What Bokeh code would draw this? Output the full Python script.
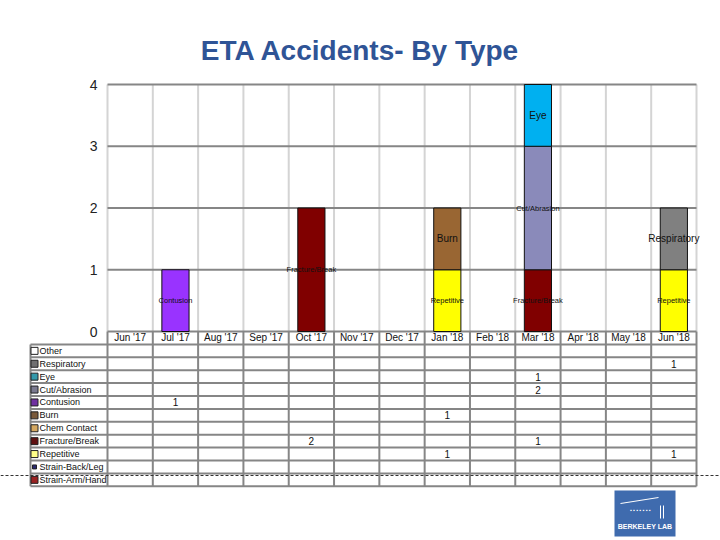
from bokeh.plotting import figure
from bokeh.models import Range1d
from bokeh.core.properties import value
from bokeh.embed import file_html
from bokeh.resources import INLINE

# ---------------- data ----------------
months = ["Jun '17", "Jul '17", "Aug '17", "Sep '17", "Oct '17", "Nov '17", "Dec '17",
          "Jan '18", "Feb '18", "Mar '18", "Apr '18", "May '18", "Jun '18"]
categories = ["Other", "Respiratory", "Eye", "Cut/Abrasion", "Contusion", "Burn",
              "Chem Contact", "Fracture/Break", "Repetitive", "Strain-Back/Leg", "Strain-Arm/Hand"]

other          = [0, 0, 0, 0, 0, 0, 0, 0, 0, 0, 0, 0, 0]
respiratory    = [0, 0, 0, 0, 0, 0, 0, 0, 0, 0, 0, 0, 1]
eye            = [0, 0, 0, 0, 0, 0, 0, 0, 0, 1, 0, 0, 0]
cut_abrasion   = [0, 0, 0, 0, 0, 0, 0, 0, 0, 2, 0, 0, 0]
contusion      = [0, 1, 0, 0, 0, 0, 0, 0, 0, 0, 0, 0, 0]
burn           = [0, 0, 0, 0, 0, 0, 0, 1, 0, 0, 0, 0, 0]
chem_contact   = [0, 0, 0, 0, 0, 0, 0, 0, 0, 0, 0, 0, 0]
fracture_break = [0, 0, 0, 0, 2, 0, 0, 0, 0, 1, 0, 0, 0]
repetitive     = [0, 0, 0, 0, 0, 0, 0, 1, 0, 0, 0, 0, 1]
strain_back    = [0, 0, 0, 0, 0, 0, 0, 0, 0, 0, 0, 0, 0]
strain_arm     = [0, 0, 0, 0, 0, 0, 0, 0, 0, 0, 0, 0, 0]

series = [other, respiratory, eye, cut_abrasion, contusion, burn, chem_contact,
          fracture_break, repetitive, strain_back, strain_arm]

y_ticks = [0, 1, 2, 3, 4]
title_text = "ETA Accidents- By Type"

# ---------------- styles ----------------
bar_colors = {"Other": "#FFFFFF", "Respiratory": "#808080", "Eye": "#00B0F0",
              "Cut/Abrasion": "#8A8ABA", "Contusion": "#9933FF", "Burn": "#996633",
              "Chem Contact": "#CC9966", "Fracture/Break": "#800000", "Repetitive": "#FFFF00",
              "Strain-Back/Leg": "#000080", "Strain-Arm/Hand": "#993333"}
legend_colors = {"Other": "#FFFFFF", "Respiratory": "#707070", "Eye": "#3399AA",
                 "Cut/Abrasion": "#7A7A90", "Contusion": "#7030A0", "Burn": "#7A5A3A",
                 "Chem Contact": "#D4A860", "Fracture/Break": "#601010", "Repetitive": "#FFFF88",
                 "Strain-Back/Leg": "#2A2A70", "Strain-Arm/Hand": "#992222"}
big_label = {"Respiratory", "Eye", "Burn"}

FONT = "Liberation Sans"
GRID_DARK = "#868686"
GRID_LIGHT = "#D4D4D4"
TXT = "#111111"

W, H = 720, 540
n = len(months)
nrows = len(categories)
PX_PER_X = 589 / n          # category axis: px 107..696
PX_PER_Y = 247 / 4          # value axis: px 331 (0) .. 84 (4)
ROW_PX = 12.9               # table rows start at px 331 (header row)

def xpx(px):
    return (px - 107) / PX_PER_X

def ypx(py):
    return (331 - py) / PX_PER_Y

def rpx(py):
    return (py - 331) / ROW_PX

p = figure(width=W, height=H,
           x_range=Range1d(xpx(0), xpx(W)), y_range=Range1d(ypx(H), ypx(0)),
           output_backend="svg", toolbar_location=None,
           x_axis_location=None, y_axis_location=None, min_border=0, title=None)
p.extra_y_ranges = {"tbl": Range1d(rpx(H), rpx(0))}
p.outline_line_color = None
p.grid.visible = False

# ---------- chart grid ----------
vx = list(range(n + 1))
p.segment(x0=vx, y0=[0] * len(vx), x1=vx, y1=[4] * len(vx), line_color=GRID_LIGHT, line_width=2)
p.segment(x0=[0] * len(y_ticks), y0=y_ticks, x1=[n] * len(y_ticks), y1=y_ticks,
          line_color=GRID_DARK, line_width=2)
p.text(x=[xpx(97)] * len(y_ticks), y=y_ticks, text=[str(t) for t in y_ticks],
       text_font_size="14px", text_font=value(FONT), text_align="right",
       text_baseline="middle", text_color="#222222")

# ---------- stacked bars ----------
bx, bb, bt, bc = [], [], [], []
lx, ly, lt, ls = [], [], [], []
for i in range(n):
    base = 0
    for cat, vals in zip(reversed(categories), reversed(series)):
        v = vals[i]
        if v > 0:
            bx.append(i + 0.5); bb.append(base); bt.append(base + v); bc.append(bar_colors[cat])
            lx.append(i + 0.5); ly.append(base + v / 2); lt.append(cat)
            ls.append("10px" if cat in big_label else "7.5px")
            base += v
p.vbar(x=bx, bottom=bb, top=bt, width=0.6, fill_color=bc, line_color="#111111", line_width=1)
p.text(x=lx, y=ly, text=lt, text_font_size=ls, text_font=value(FONT),
       text_align="center", text_baseline="middle", text_color=TXT)

# ---------- title ----------
p.text(x=[xpx(360)], y=[ypx(50)], text=[title_text], text_font=value(FONT),
       text_font_size="28px", text_font_style="bold", text_color="#2F5496",
       text_align="center", text_baseline="middle")

# ---------- data table ----------
left_edge = xpx(30)
hrows = list(range(1, nrows + 2))
p.segment(x0=[left_edge] * len(hrows), y0=hrows, x1=[n] * len(hrows), y1=hrows,
          line_color=GRID_DARK, line_width=2, y_range_name="tbl")
p.segment(x0=vx, y0=[0] * len(vx), x1=vx, y1=[nrows + 1] * len(vx),
          line_color=GRID_DARK, line_width=2, y_range_name="tbl")
p.segment(x0=[left_edge], y0=[1], x1=[left_edge], y1=[nrows + 1],
          line_color=GRID_DARK, line_width=2, y_range_name="tbl")

p.text(x=[i + 0.5 for i in range(n)], y=[0.5] * n, text=months,
       text_font_size="10px", text_font=value(FONT), text_align="center",
       text_baseline="middle", text_color=TXT, y_range_name="tbl")

row_y = [r + 1.5 for r in range(nrows)]
sizes = [4 if c == "Strain-Back/Leg" else 7 for c in categories]
p.scatter(x=[xpx(34)] * nrows, y=row_y, marker="square", size=sizes,
          fill_color=[legend_colors[c] for c in categories], line_color="#222222",
          line_width=1, y_range_name="tbl")
p.text(x=[xpx(39)] * nrows, y=row_y, text=categories, text_font_size="9px",
       text_font=value(FONT), text_align="left", text_baseline="middle", text_color=TXT,
       y_range_name="tbl")

tx, ty, tt = [], [], []
for r, vals in enumerate(series):
    for i, v in enumerate(vals):
        if v > 0:
            tx.append(i + 0.5); ty.append(r + 1.5); tt.append(str(v))
p.text(x=tx, y=ty, text=tt, text_font_size="10px", text_font=value(FONT),
       text_align="center", text_baseline="middle", text_color=TXT, y_range_name="tbl")

# dashed slide rule
p.segment(x0=[xpx(0)], y0=[rpx(475)], x1=[xpx(W)], y1=[rpx(475)], line_color="#333333",
          line_width=1, line_dash="3 2", y_range_name="tbl")

# ---------- logo ----------
p.quad(left=[xpx(614)], right=[xpx(675)], top=[rpx(490)], bottom=[rpx(536)],
       fill_color="#3F6BAE", line_color=None, y_range_name="tbl")
p.text(x=[xpx(640)], y=[rpx(509)], text=["▪ ▪ ▪ ▪ ▪ ▪ ▪"], text_font=value(FONT),
       text_font_size="5px", text_color="white", text_align="center",
       text_baseline="middle", y_range_name="tbl")
p.segment(x0=[xpx(620), xpx(660), xpx(663)], y0=[rpx(503), rpx(505), rpx(505)],
          x1=[xpx(658), xpx(660), xpx(663)], y1=[rpx(497), rpx(518), rpx(518)],
          line_color="white", line_width=1, y_range_name="tbl")
p.text(x=[xpx(644.5)], y=[rpx(526)], text=["BERKELEY LAB"], text_font=value(FONT),
       text_font_size="7px", text_font_style="bold", text_color="white",
       text_align="center", text_baseline="middle", y_range_name="tbl")

open("out.html", "w").write(file_html(p, INLINE))
